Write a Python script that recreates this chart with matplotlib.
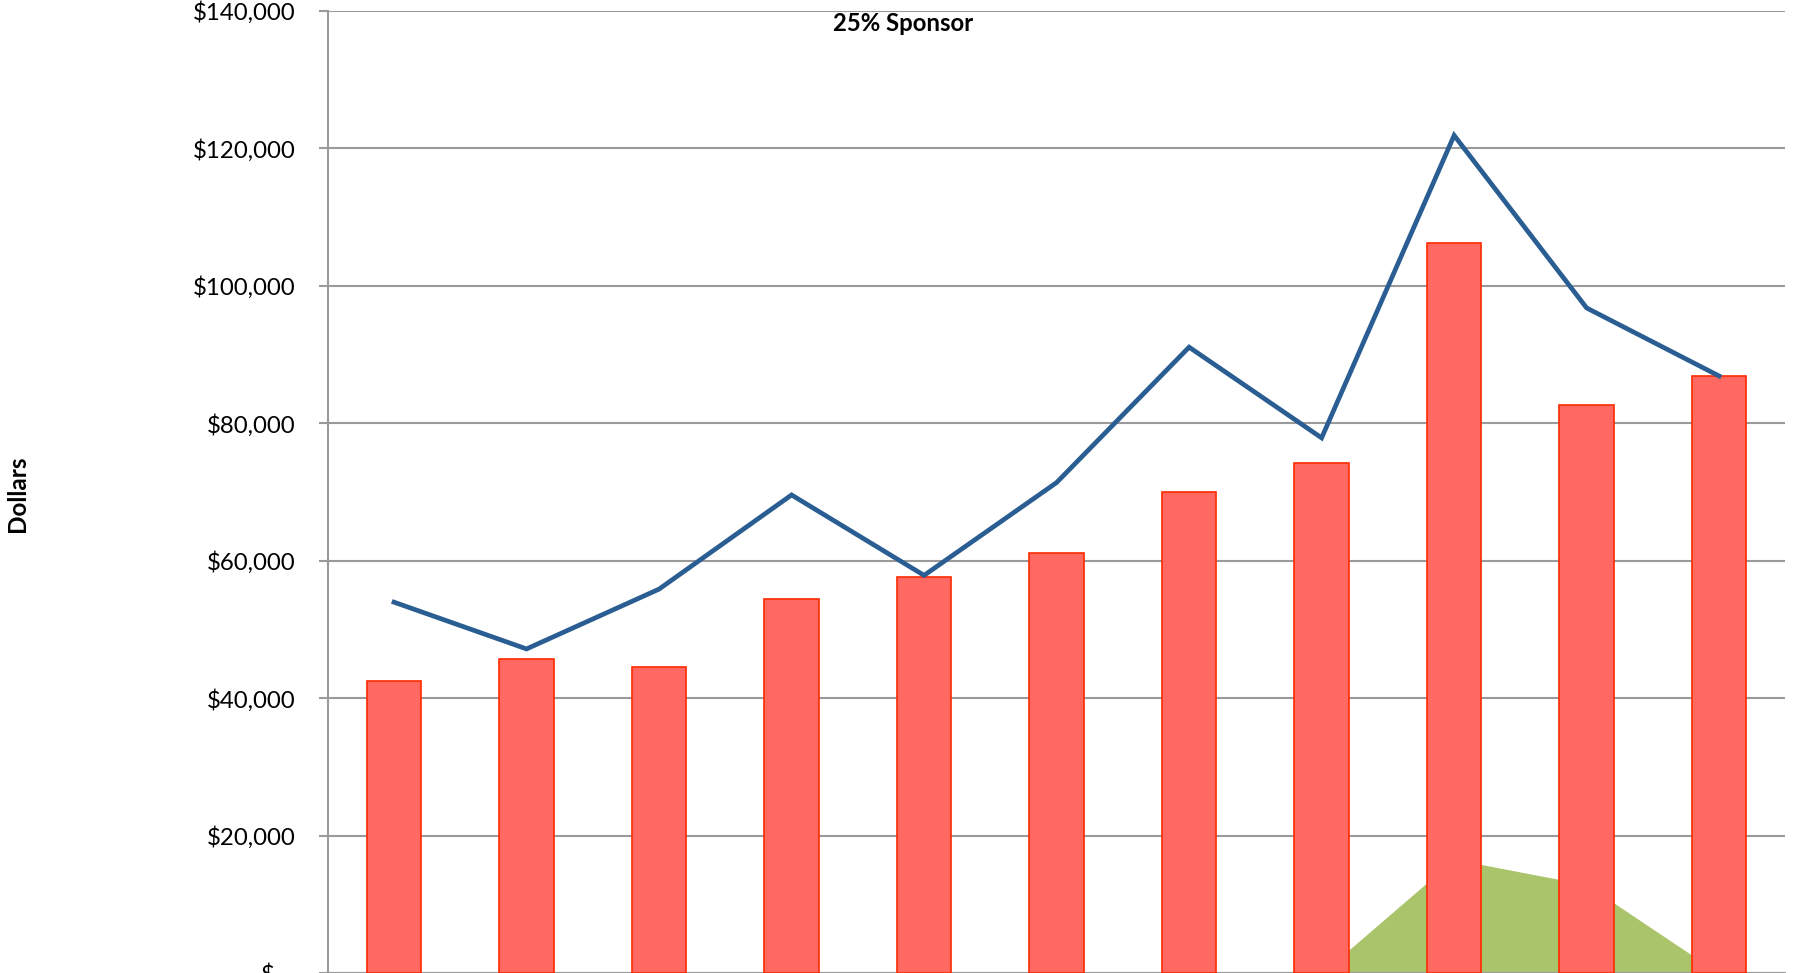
import numpy as np
import matplotlib
matplotlib.use("Agg")
import matplotlib.pyplot as plt
from matplotlib.ticker import FuncFormatter

plt.rcParams['font.family'] = ['Lato', 'DejaVu Sans']

# data (thousands of dollars)
periods = list(range(1, 12))
bar_vals = [42.5, 45.7, 44.5, 54.5, 57.7, 61.1, 70.1, 74.2, 106.3, 82.7, 86.9]
line_vals = [54.0, 47.2, 55.9, 69.6, 57.9, 71.4, 91.1, 77.9, 121.9, 96.8, 86.9]
area_vals = [0, 0, 0, 0, 0, 0, 0, 0, 16.6, 12.9, 0]
yticks = [0, 20000, 40000, 60000, 80000, 100000, 120000, 140000]

bar_vals = np.array(bar_vals) * 1000
line_vals = np.array(line_vals) * 1000
area_vals = np.array(area_vals) * 1000
x = np.arange(len(periods))

fig = plt.figure(figsize=(17.98, 9.73), dpi=100)
ax = fig.add_axes([0.1823, -0.0004, 0.8107, 0.9891])

grid_c = '#9a9a9a'
ax.set_axisbelow(True)
ax.yaxis.grid(True, color=grid_c, linewidth=1.5)

ax.fill_between(x, 0, area_vals, color='#aac46c', linewidth=0, zorder=2)
ax.bar(x, bar_vals, width=0.41, color='#ff6962', edgecolor='#ff2a00',
       linewidth=1.2, zorder=3)
ax.plot(x, line_vals, color='#2a5e93', linewidth=3.4, zorder=4,
        solid_joinstyle='miter')

ax.set_xlim(-0.5, len(periods) - 0.5)
ax.set_ylim(0, 140000)
ax.set_yticks(yticks)


def money(v, pos):
    if v == 0:
        return '$ - '
    return '${:,.0f}'.format(v)


ax.yaxis.set_major_formatter(FuncFormatter(money))
ax.tick_params(axis='y', length=6.5, width=1.5, color=grid_c,
               labelsize=17.3, pad=16.5)
ax.set_xticks(x)
ax.set_xticklabels([])
ax.tick_params(axis='x', length=0)

for s in ['top', 'right']:
    ax.spines[s].set_visible(False)
ax.spines['left'].set_color(grid_c)
ax.spines['left'].set_linewidth(1.5)
ax.spines['bottom'].set_color(grid_c)
ax.spines['bottom'].set_linewidth(1.5)

ax.text(0.3946, 0.9875, '25% Sponsor', transform=ax.transAxes, ha='center',
        va='center', fontsize=17.2, fontweight='bold')
fig.text(0.0095, 0.493, 'Dollars', rotation=90, ha='center', va='center',
         fontsize=17.5, fontweight='bold')

fig.savefig('out.png', dpi=100)
